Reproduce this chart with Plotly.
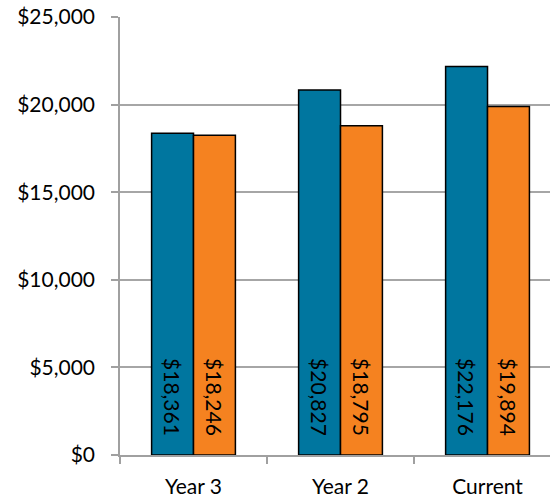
import plotly.graph_objects as go

categories = ["Year 3", "Year 2", "Current"]
series_a = [18361, 20827, 22176]
series_b = [18246, 18795, 19894]
tick_vals = [0, 5000, 10000, 15000, 20000, 25000]
tick_text = ["$0", "$5,000", "$10,000", "$15,000", "$20,000", "$25,000"]

FONT = "Lato"
SIZE = 21
BLUE = "#00769F"
ORANGE = "#F58220"
# non-breaking spaces keep the rotated labels lifted off the bar base
PAD = "\u00a0\u00a0\u00a0"

def bar(values, color):
    return go.Bar(
        x=categories,
        y=values,
        marker=dict(color=color, line=dict(color="black", width=1.5)),
        text=[f"${v:,}{PAD}" for v in values],
        textposition="inside",
        insidetextanchor="start",
        textangle=90,
        textfont=dict(family=FONT, size=SIZE, color="black"),
        cliponaxis=False,
        showlegend=False,
    )

fig = go.Figure([bar(series_a, BLUE), bar(series_b, ORANGE)])

fig.update_layout(
    width=550,
    height=503,
    margin=dict(l=120, r=0, t=17, b=48),
    paper_bgcolor="white",
    plot_bgcolor="white",
    barmode="group",
    bargap=0.43,
    bargroupgap=0,
    uniformtext=dict(mode=False),
    font=dict(family=FONT, size=SIZE, color="black"),
)

fig.update_xaxes(
    range=[-0.5, 2.425],
    showline=True,
    linecolor="#A0A0A0",
    linewidth=1.5,
    ticks="outside",
    tickson="boundaries",
    ticklen=7,
    tickcolor="#A0A0A0",
    tickwidth=1.5,
    ticklabelstandoff=12,
    showgrid=False,
    tickfont=dict(family=FONT, size=SIZE, color="black"),
)

fig.update_yaxes(
    range=[0, 25000],
    tickvals=tick_vals,
    ticktext=tick_text,
    showline=True,
    linecolor="#A0A0A0",
    linewidth=1.5,
    ticks="outside",
    ticklen=7,
    tickcolor="#A0A0A0",
    tickwidth=1.5,
    ticklabelstandoff=12,
    showgrid=True,
    gridcolor="#A6A6A6",
    gridwidth=1.5,
    zeroline=False,
    tickfont=dict(family=FONT, size=SIZE, color="black"),
)

fig.write_html("out.html")
